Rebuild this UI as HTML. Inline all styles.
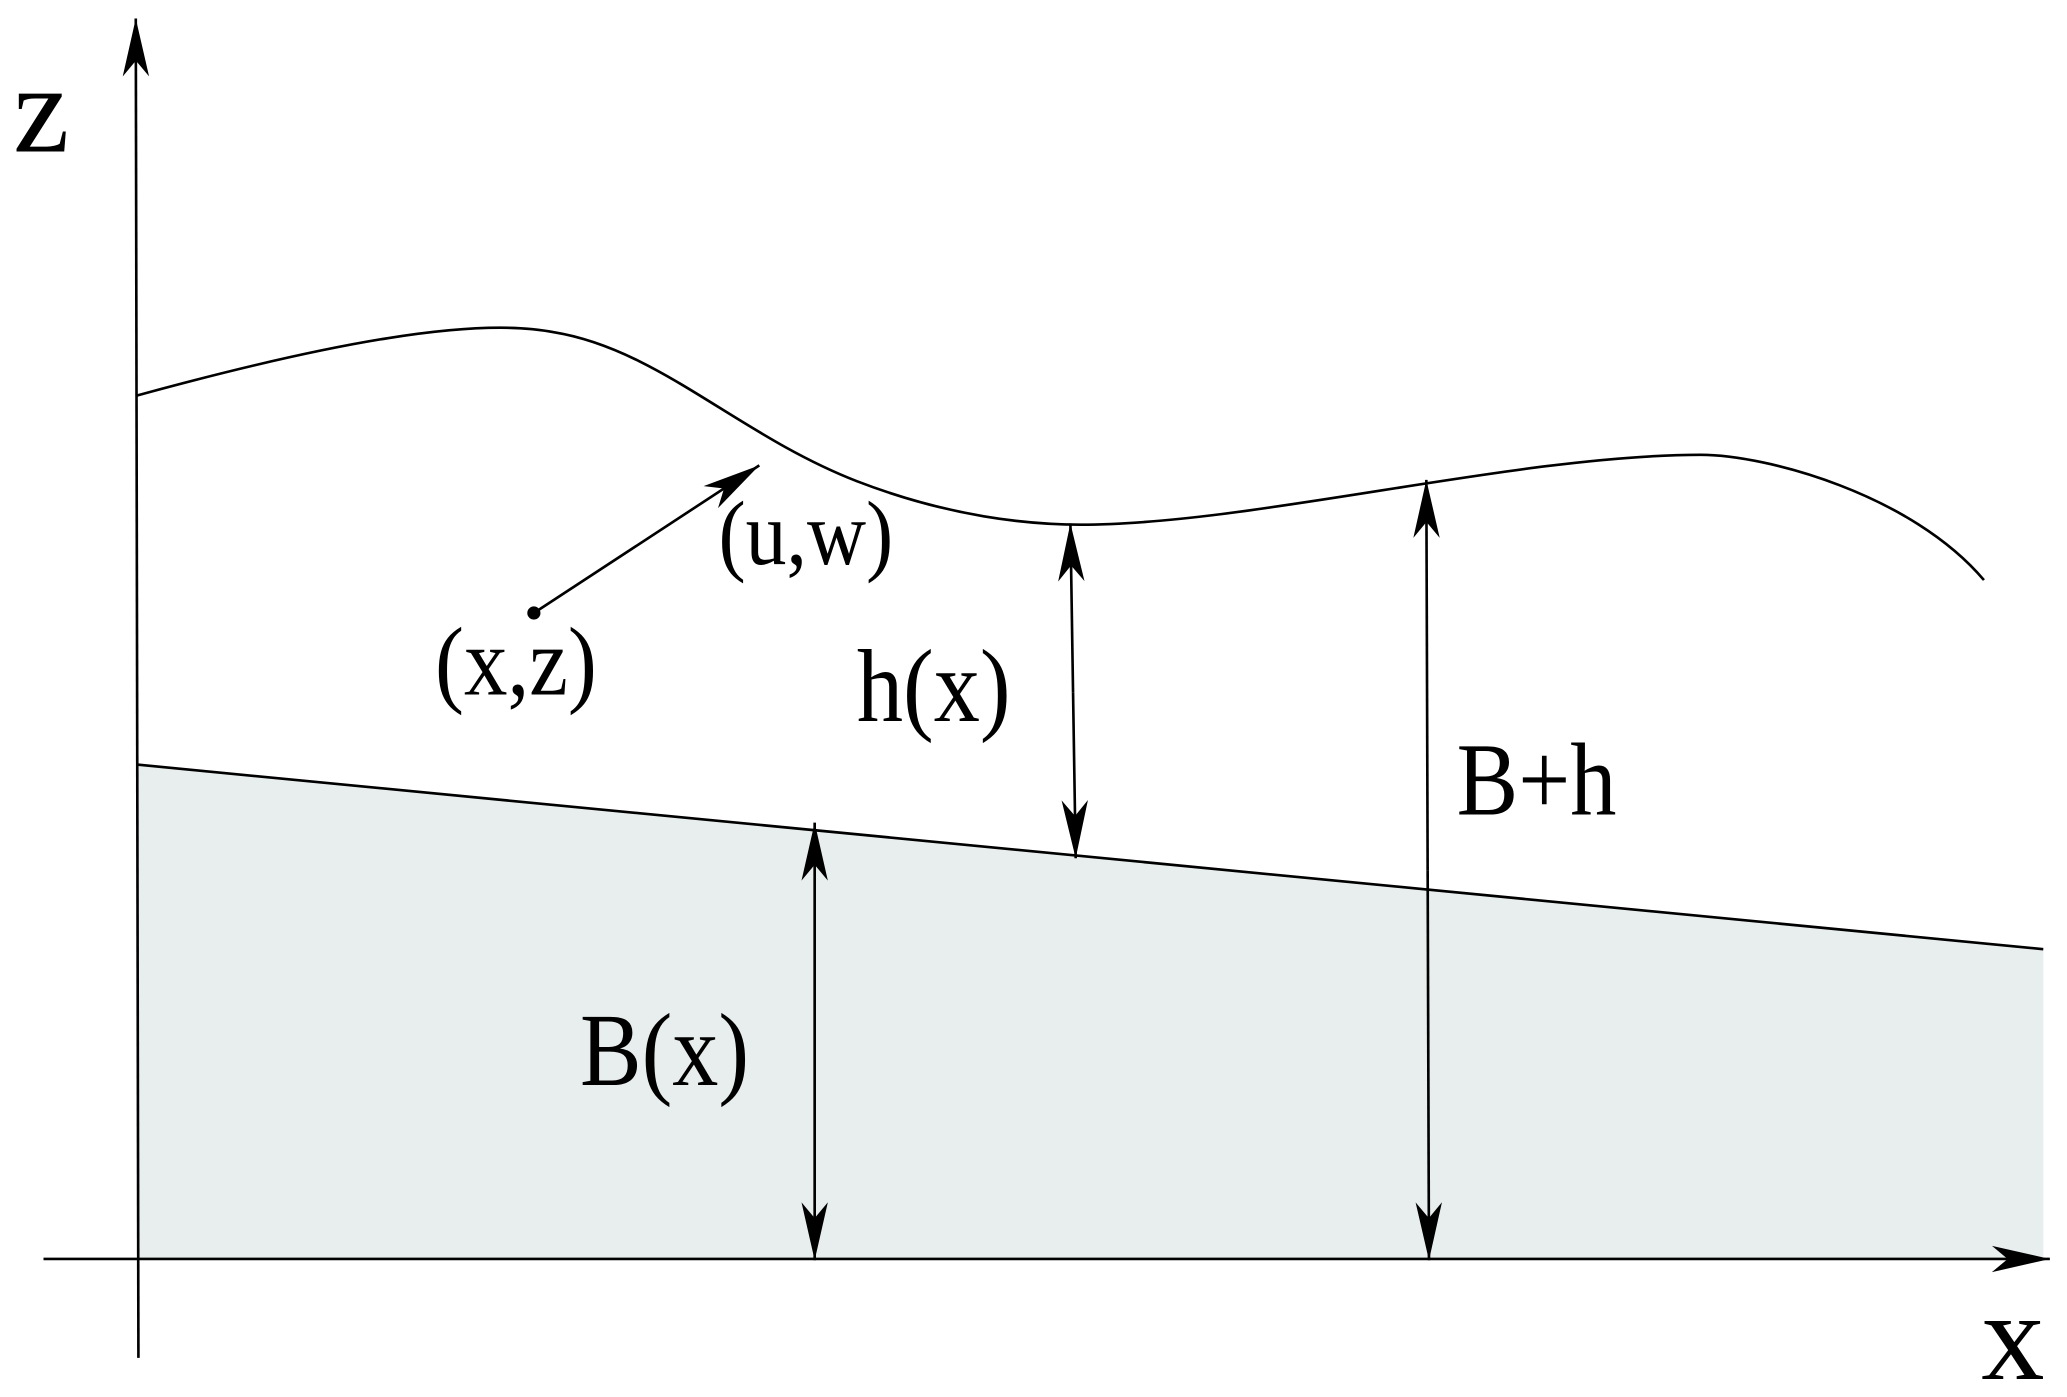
<!DOCTYPE html>
<html><head><meta charset="utf-8"><style>
html,body{margin:0;padding:0;background:#fff;}
svg{display:block;}
text{font-family:"Liberation Serif",serif;fill:#000;}
</style></head><body>
<svg width="2067" height="1397" viewBox="0 0 1568 1059.7" preserveAspectRatio="none" xmlns="http://www.w3.org/2000/svg">
<defs>
<marker id="ah" markerWidth="48" markerHeight="24" refX="44" refY="12" orient="auto" markerUnits="userSpaceOnUse">
<path d="M0,2 L44,12 L0,22 L12,12 Z" fill="#000"/>
</marker>
</defs>
<polygon points="104,580 1550,720 1550,955 104,955" fill="#e7eeed"/>
<line x1="104" y1="580" x2="1550" y2="720" stroke="#000" stroke-width="2"/>
<line x1="105" y1="1030" x2="103" y2="14" stroke="#000" stroke-width="2" marker-end="url(#ah)"/>
<line x1="33" y1="955" x2="1555" y2="955" stroke="#000" stroke-width="2" marker-end="url(#ah)"/>
<path d="M104,300 C250,260 360,240 420,252 C500,265 560,330 650,365 C720,392 780,398 820,398 C950,398 1150,345 1290,345 C1340,345 1450,375 1505,440" fill="none" stroke="#000" stroke-width="2"/>
<line x1="405" y1="465" x2="576" y2="353" stroke="#000" stroke-width="2" marker-end="url(#ah)"/>
<circle cx="405" cy="465" r="5" fill="#000"/>
<line x1="814" y1="525" x2="812" y2="397" stroke="#000" stroke-width="2" marker-end="url(#ah)"/>
<line x1="814" y1="525" x2="816" y2="651" stroke="#000" stroke-width="2" marker-end="url(#ah)"/>
<line x1="1083" y1="660" x2="1082" y2="364" stroke="#000" stroke-width="2" marker-end="url(#ah)"/>
<line x1="1083" y1="660" x2="1084" y2="956" stroke="#000" stroke-width="2" marker-end="url(#ah)"/>
<line x1="618" y1="790" x2="618" y2="624" stroke="#000" stroke-width="2" marker-end="url(#ah)"/>
<line x1="618" y1="790" x2="618" y2="956" stroke="#000" stroke-width="2" marker-end="url(#ah)"/>
<text x="10" y="115" font-size="96">z</text>
<text x="1503" y="1046" font-size="96">x</text>
<text transform="translate(545,428) scale(1,1.12)" font-size="62">(u,w)</text>
<text transform="translate(330,527) scale(1,1.12)" font-size="66">(x,z)</text>
<text transform="translate(650,547) scale(1,1.12)" font-size="70">h(x)</text>
<text transform="translate(1105,618) scale(1,1.12)" font-size="70">B+h</text>
<text transform="translate(440,823) scale(1,1.12)" font-size="70">B(x)</text>
</svg>
</body></html>
